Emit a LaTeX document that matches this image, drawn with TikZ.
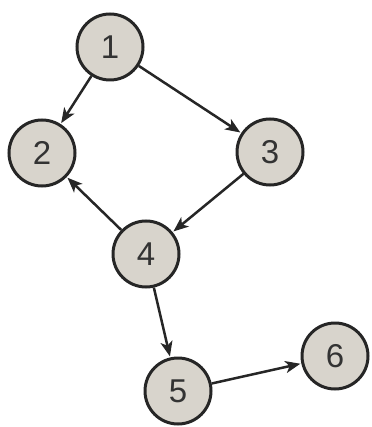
\documentclass[tikz,border=0pt]{standalone}
\usepackage{fontspec}
\setmainfont{Liberation Sans}
\usetikzlibrary{arrows.meta}
\definecolor{nodefill}{HTML}{D8D4CC}
\begin{document}
\begin{tikzpicture}[x=1pt,y=-1pt,
  vert/.style={circle,draw=black!85,line width=3pt,fill=nodefill,minimum size=66pt,inner sep=0pt,font=\fontsize{33}{33}\selectfont,text=black!80},
  edge/.style={draw=black!85,line width=2.5pt,-{Stealth[length=15pt,width=12pt,inset=4pt]},shorten >=1pt}]
\useasboundingbox (0,0) rectangle (371,427);
\node[vert] (n1) at (110,47) {1};
\node[vert] (n2) at (42,153) {2};
\node[vert] (n3) at (270,152) {3};
\node[vert] (n4) at (146,254) {4};
\node[vert] (n5) at (178,391) {5};
\node[vert] (n6) at (335,356) {6};
\draw[edge] (n1) -- (n2);
\draw[edge] (n1) -- (n3);
\draw[edge] (n3) -- (n4);
\draw[edge] (n4) -- (n2);
\draw[edge] (n4) -- (n5);
\draw[edge] (n5) -- (n6);
\end{tikzpicture}
\end{document}
